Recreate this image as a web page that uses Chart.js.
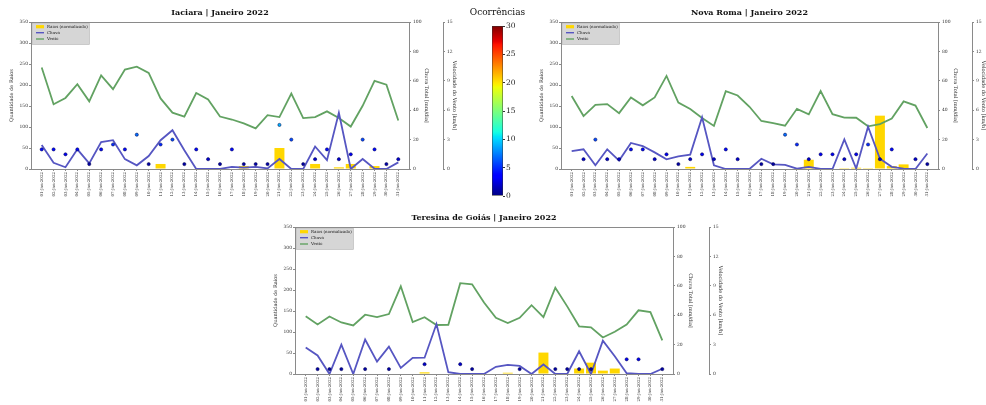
<!DOCTYPE html>
<html><head><meta charset="utf-8">
<script src="https://cdn.jsdelivr.net/npm/chart.js@4/dist/chart.umd.min.js"></script>
<style>
html,body{margin:0;padding:0;background:#fff;width:986px;height:405px;overflow:hidden;position:relative;}
canvas{position:absolute;}
</style></head><body>
<canvas id="cIaciara"></canvas>
<canvas id="cNovaRoma"></canvas>
<canvas id="cTeresina"></canvas>
<canvas id="cBar"></canvas>
<script>
// ---------- DATA ----------
const dayLabels = ['01-Jan-2022','02-Jan-2022','03-Jan-2022','04-Jan-2022','05-Jan-2022','06-Jan-2022','07-Jan-2022','08-Jan-2022','09-Jan-2022','10-Jan-2022','11-Jan-2022','12-Jan-2022','13-Jan-2022','14-Jan-2022','15-Jan-2022','16-Jan-2022','17-Jan-2022','18-Jan-2022','19-Jan-2022','20-Jan-2022','21-Jan-2022','22-Jan-2022','23-Jan-2022','24-Jan-2022','25-Jan-2022','26-Jan-2022','27-Jan-2022','28-Jan-2022','29-Jan-2022','30-Jan-2022','31-Jan-2022'];
const legendLabels = ['Raios (normalizado)','Chuva','Vento'];
const panelTitles = ['Iaciara | Janeiro 2022','Nova Roma | Janeiro 2022','Teresina de Goiás | Janeiro 2022'];
const axisTitles = ['Quantidade de Raios','Chuva Total [mm/dia]','Velocidade do Vento [km/h]'];
const colorbarTitle = 'Ocorrências';
const colorbarRange = [0, 30];

const iaciaraRaios  = [0,0,0,0,0,0,0,0,0,0,12,0,0,0,0,0,0,7,0,0,50,0,0,12,0,4,12,0,7,0,0];
const iaciaraChuva  = [16.3,4.2,1.2,13.4,3.8,18.3,19.6,6.7,2.5,8.8,19.6,26.4,12.8,0,0,0,1.5,1.0,1.5,0.4,6.8,0,0,15.3,6.0,38.3,0,6.8,0.2,0,4.5];
const iaciaraVento  = [10.35,6.6,7.25,8.65,6.9,9.55,8.15,10.15,10.45,9.8,7.2,5.75,5.35,7.75,7.1,5.35,5.05,4.65,4.15,5.5,5.3,7.7,5.2,5.3,5.88,5.2,4.33,6.45,9.0,8.6,4.95];
const iaciaraOcorr  = [4,4,3,4,1,4,5,4,7,1,5,6,1,4,2,1,4,1,1,1,9,6,1,2,4,2,3,6,4,1,2];

const novaRomaRaios = [0,0,0,0,0,0,0,0,0,0,5,0,0,0,0,0,0,0,0,0,22,0,0,2,3,2,127,7,11,0,0];
const novaRomaChuva = [12.2,13.4,2.5,13.4,5.7,17.7,15.6,11.3,6.6,8.6,9.8,35.2,2.5,0,0,0,7.0,3.2,2.8,0.2,1.5,0,0,20.2,0.3,28.8,7.0,1.5,0.3,0,10.5];
const novaRomaVento = [7.45,5.4,6.55,6.62,5.7,7.3,6.5,7.3,9.5,6.78,6.13,5.2,4.4,7.95,7.5,6.35,4.9,4.68,4.42,6.14,5.58,7.95,5.6,5.25,5.23,4.36,4.58,5.14,6.9,6.47,4.18];
const novaRomaOcorr = [null,2,6,2,2,4,4,2,3,1,2,3,2,4,2,null,1,1,7,5,2,3,3,2,3,5,2,4,null,2,1];

const teresinaRaios = [0,0,0,0,0,0,0,0,0,0,4,0,0,0,0,0,0,3,0,0,51,0,0,13,27,8,13,0,0,0,0];
const teresinaChuva = [18.0,12.6,0,20.0,0,23.5,8.4,18.6,4.2,11.0,11.1,34.0,1.2,0,0,0,4.9,6.2,5.5,0,6.5,0,0,15.5,0,22.7,12.1,0.5,0,0,3.6];
const teresinaVento = [5.9,5.06,5.87,5.26,4.95,6.05,5.8,6.12,8.95,5.29,5.79,5.0,5.02,9.27,9.16,7.3,5.73,5.2,5.73,7.02,5.8,8.8,6.9,4.87,4.77,3.73,4.31,5.05,6.5,6.31,3.43];
const teresinaOcorr = [null,1,1,1,null,1,null,1,null,null,2,null,null,2,1,null,null,null,1,null,null,1,1,1,1,null,null,3,3,null,1];

// ---------- STYLE ----------
Chart.defaults.font.family = "'DejaVu Serif', serif";
Chart.defaults.color = '#333';
const axisColor = '#8a8a8a';
const barColor = '#ffd700';
const chuvaColor = '#5656c2';
const ventoColor = '#62a262';

// matplotlib "jet" colormap
const jetR = [[0,0],[0.35,0],[0.66,1],[0.89,1],[1,0.5]];
const jetG = [[0,0],[0.125,0],[0.375,1],[0.64,1],[0.91,0],[1,0]];
const jetB = [[0,0.5],[0.11,1],[0.34,1],[0.65,0],[1,0]];
function interp(tab, x){
  for (let i=1;i<tab.length;i++){
    if (x <= tab[i][0]){
      const [x0,y0]=tab[i-1],[x1,y1]=tab[i];
      return y0 + (y1-y0)*(x-x0)/(x1-x0);
    }
  }
  return tab[tab.length-1][1];
}
function jet(v){
  const t = Math.max(0, Math.min(1, (v-colorbarRange[0])/(colorbarRange[1]-colorbarRange[0])));
  return `rgb(${Math.round(255*interp(jetR,t))},${Math.round(255*interp(jetG,t))},${Math.round(255*interp(jetB,t))})`;
}

function titlePlugin(text, size, weight, dy){
  return {id:'ptitle', afterDraw(chart){
    const a = chart.chartArea, ctx = chart.ctx;
    ctx.save();
    ctx.font = `${weight} ${size}px 'DejaVu Serif', serif`;
    ctx.fillStyle = '#111'; ctx.textAlign='center'; ctx.textBaseline='middle';
    ctx.fillText(text, (a.left+a.right)/2, a.top - dy);
    ctx.restore();
  }};
}
const framePlugin = {id:'frame', afterDraw(chart){
  const a = chart.chartArea, ctx = chart.ctx;
  ctx.save(); ctx.strokeStyle = axisColor; ctx.lineWidth = 1;
  ctx.beginPath(); ctx.moveTo(a.left, a.top+0.5); ctx.lineTo(a.right, a.top+0.5); ctx.stroke();
  ctx.restore();
}};
const legendPlugin = {id:'plegend', afterDraw(chart){
  const a = chart.chartArea, ctx = chart.ctx;
  const x0 = a.left+1.5, y0 = a.top+1.5;
  ctx.save();
  ctx.fillStyle = '#d6d6d6'; ctx.fillRect(x0, y0, 57, 21);
  ctx.strokeStyle = '#b4b4b4'; ctx.lineWidth = 0.6; ctx.strokeRect(x0, y0, 57, 21);
  const rows = [y0+3.2, y0+9.2, y0+15.5];
  ctx.fillStyle = barColor; ctx.fillRect(x0+3.5, rows[0]-1.6, 8, 3.2);
  ctx.lineWidth = 1.4;
  ctx.strokeStyle = chuvaColor; ctx.beginPath(); ctx.moveTo(x0+3.5, rows[1]); ctx.lineTo(x0+11.5, rows[1]); ctx.stroke();
  ctx.strokeStyle = ventoColor; ctx.beginPath(); ctx.moveTo(x0+3.5, rows[2]); ctx.lineTo(x0+11.5, rows[2]); ctx.stroke();
  ctx.fillStyle = '#222'; ctx.font = "4px 'DejaVu Serif', serif"; ctx.textBaseline='middle'; ctx.textAlign='left';
  legendLabels.forEach((t,i)=>ctx.fillText(t, x0+14.5, rows[i]));
  ctx.restore();
}};

function pts(arr){ return arr.map((v,i)=>({x:i+1, y:v})); }

function panel(id, g, title, raios, chuva, vento, ocorr){
  const cv = document.getElementById(id);
  cv.width = g.w; cv.height = g.h;
  cv.style.left = g.x+'px'; cv.style.top = g.y+'px';
  const L = g.cl - g.x, T = g.ct - g.y, R = g.cr - g.x, B = g.cb - g.y;
  const w1 = g.w1, w2 = g.w - R - w1, xH = 30;
  const tickFont = {size:4.5};
  const common = {
    grid:{drawOnChartArea:false, tickLength:2, color:axisColor},
    border:{color:axisColor, width:1}
  };
  return new Chart(cv, {
    type:'line',
    data:{datasets:[
      {type:'bar', label:legendLabels[0], data:pts(raios), yAxisID:'y', backgroundColor:barColor, borderWidth:0, barPercentage:0.84, categoryPercentage:1, order:4},
      {type:'line', label:legendLabels[2], data:pts(vento), yAxisID:'y2', borderColor:ventoColor, borderWidth:1.8, pointRadius:0, tension:0, order:3},
      {type:'line', label:legendLabels[1], data:pts(chuva), yAxisID:'y1', borderColor:chuvaColor, borderWidth:1.8, pointRadius:0, tension:0, order:2},
      {type:'line', label:colorbarTitle, data:pts(ocorr), yAxisID:'yo', showLine:false, pointRadius:1.6,
        pointBorderWidth:0.6, pointBorderColor:'rgba(0,0,70,0.85)',
        pointBackgroundColor:ocorr.map(v=>v==null?'rgba(0,0,0,0)':jet(v)), order:1}
    ]},
    options:{
      responsive:false, animation:false, events:[],
      layout:{padding:{left:0, right:0, top:T, bottom:g.h - B - xH}},
      plugins:{legend:{display:false}, tooltip:{enabled:false}},
      scales:{
        x:{type:'linear', min:0.1, max:31.9, offset:false,
           afterFit:s=>{s.height = xH;},
           afterBuildTicks:s=>{s.ticks = dayLabels.map((_,i)=>({value:i+1}));},
           ticks:{autoSkip:false, minRotation:90, maxRotation:90, font:{size:4}, padding:1,
                  callback:(v)=>dayLabels[Math.round(v)-1]},
           grid:{drawOnChartArea:false, tickLength:2, color:axisColor, offset:false},
           border:{color:axisColor, width:1}},
        y:{position:'left', min:0, max:350, afterFit:s=>{s.width = L;},
           ticks:{stepSize:50, font:tickFont, padding:1},
           title:{display:true, text:axisTitles[0], font:{size:5}, padding:{top:L-22, bottom:0}},
           ...common},
        y1:{position:'right', weight:0, min:0, max:100, afterFit:s=>{s.width = w1;},
           ticks:{stepSize:20, font:tickFont, padding:2},
           title:{display:true, text:axisTitles[1], font:{size:5}, padding:{top:w1-20, bottom:0}},
           ...common},
        y2:{position:'right', weight:1, min:0, max:15, afterFit:s=>{s.width = w2;},
           ticks:{stepSize:3, font:tickFont, padding:2},
           title:{display:true, text:axisTitles[2], font:{size:5}, padding:{top:Math.max(0,w2-14), bottom:0}},
           ...common},
        yo:{display:false, min:colorbarRange[0], max:colorbarRange[1]}
      }
    },
    plugins:[framePlugin, legendPlugin, titlePlugin(title, 8, 'bold', 9)]
  });
}

panel('cIaciara', {x:0, y:0, w:470, h:210, cl:31, ct:22, cr:409, cb:169, w1:34}, panelTitles[0], iaciaraRaios, iaciaraChuva, iaciaraVento, iaciaraOcorr);
panel('cNovaRoma', {x:530, y:0, w:456, h:210, cl:561, ct:22, cr:938, cb:169, w1:34}, panelTitles[1], novaRomaRaios, novaRomaChuva, novaRomaVento, novaRomaOcorr);
panel('cTeresina', {x:264, y:205, w:480, h:200, cl:295, ct:227, cr:673, cb:374, w1:36}, panelTitles[2], teresinaRaios, teresinaChuva, teresinaVento, teresinaOcorr);

// ---------- COLORBAR ----------
(function(){
  const cv = document.getElementById('cBar');
  cv.width = 60; cv.height = 210; cv.style.left = '470px'; cv.style.top = '0px';
  new Chart(cv, {
    type:'bar',
    data:{labels:[''], datasets:[{data:[[colorbarRange[0], colorbarRange[1]]],
      backgroundColor:(ctx)=>{
        const a = ctx.chart.chartArea; if(!a) return '#00f';
        const gr = ctx.chart.ctx.createLinearGradient(0, a.bottom, 0, a.top);
        for (let i=0;i<=100;i++){ const v = colorbarRange[0] + (colorbarRange[1]-colorbarRange[0])*i/100; gr.addColorStop(i/100, jet(v)); }
        return gr;
      },
      borderColor:'#333', borderWidth:0.8, borderSkipped:false, barPercentage:1, categoryPercentage:1}]},
    options:{
      responsive:false, animation:false, events:[],
      layout:{padding:{left:22, top:26, bottom:14, right:0}},
      plugins:{legend:{display:false}, tooltip:{enabled:false}},
      scales:{
        x:{display:false},
        y:{position:'right', min:colorbarRange[0], max:colorbarRange[1], afterFit:s=>{s.width = 27;},
           ticks:{stepSize:5, font:{size:7.5}, padding:1, color:'#222'},
           grid:{drawOnChartArea:false, tickLength:2, color:'#333'},
           border:{display:false}}
      }
    },
    plugins:[titlePlugin(colorbarTitle, 9, 'normal', 13)]
  });
})();
</script>
</body></html>
